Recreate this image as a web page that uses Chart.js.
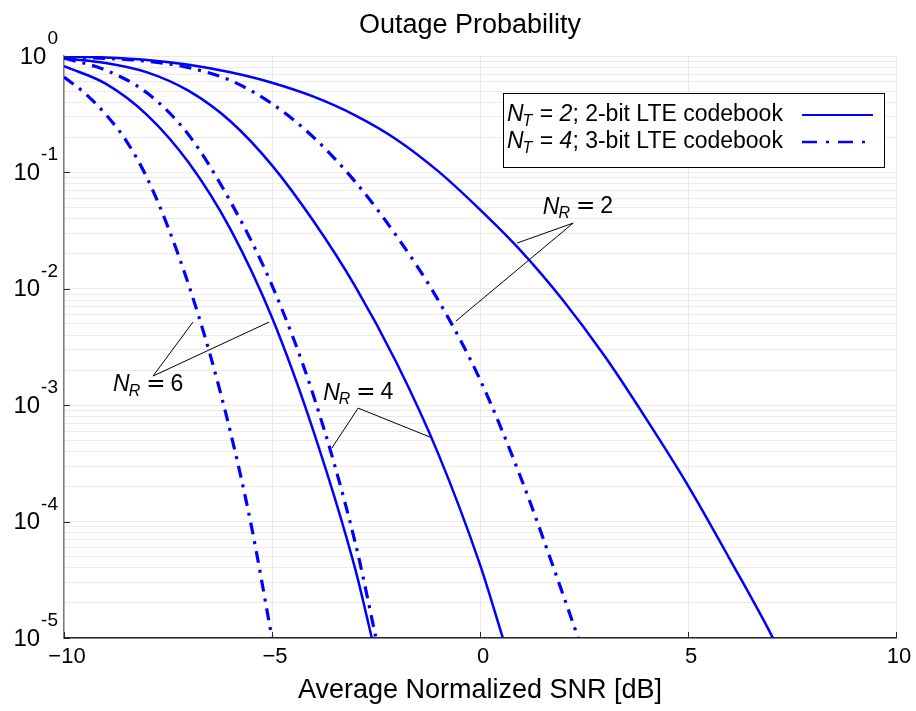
<!DOCTYPE html>
<html>
<head>
<meta charset="utf-8">
<script src="https://cdn.jsdelivr.net/npm/chart.js@4.4.1/dist/chart.umd.min.js"></script>
<style>
    html, body { margin: 0; padding: 0; background: #fff; }
    #wrap { width: 916px; height: 711px; }
</style>
</head>
<body>
<div id="wrap"><canvas id="grafico" width="916" height="711"></canvas></div>
<script>
// === DATI ===
// N_T = 2 (linee continue)
const snrNT2NR2 = [-10, -9, -8, -7, -6, -5, -4, -3, -2, -1, 0, 1, 2, 3, 4, 5, 6, 7, 7.04];
const pNT2NR2 = [0.989, 0.971, 0.925, 0.841, 0.724, 0.589, 0.447, 0.309, 0.191, 0.102, 0.0479, 0.0209, 0.00794, 0.00263, 7.59e-4, 2.04e-4, 4.79e-5, 1.07e-5, 1e-5];
const snrNT2NR4 = [-10, -9, -8, -7, -6, -5, -4, -3, -2, -1, 0, 0.55];
const pNT2NR4 = [0.955, 0.871, 0.724, 0.501, 0.275, 0.115, 0.038, 0.0105, 0.00229, 3.8e-4, 4.27e-5, 1e-5];
const snrNT2NR6 = [-10, -9, -8, -7, -6, -5, -4, -3, -2.6];
const pNT2NR6 = [0.818, 0.579, 0.311, 0.121, 0.0326, 0.00566, 5.93e-4, 3.92e-5, 1e-5];
// N_T = 4 (linee tratto-punto)
const snrNT4NR2 = [-10, -9, -8, -7, -6, -5, -4, -3, -2, -1, 0, 1, 2, 2.36];
const pNT4NR2 = [0.977, 0.955, 0.902, 0.794, 0.617, 0.389, 0.2, 0.0832, 0.0282, 0.00794, 0.00166, 2.29e-4, 2.34e-5, 1e-5];
const snrNT4NR4 = [-10, -9, -8, -7, -6, -5, -4, -3, -2.5];
const pNT4NR4 = [0.959, 0.757, 0.48, 0.209, 0.0562, 0.0107, 0.0012, 6.61e-5, 1e-5];
const snrNT4NR6 = [-10, -9.5, -9, -8.5, -8, -7.5, -7, -6.5, -6, -5.5, -5];
const pNT4NR6 = [0.661, 0.479, 0.316, 0.186, 0.0891, 0.0339, 0.0107, 0.00282, 5.89e-4, 9.33e-5, 1e-5];

// assi
const xTicks = [-10, -5, 0, 5, 10];
const decadi = [1e-5, 1e-4, 1e-3, 1e-2, 1e-1, 1];
const esponenti = ['-5', '-4', '-3', '-2', '-1', '0'];
const minori = [2, 3, 4, 5, 6, 7, 8, 9];

// etichette N_R: [snr, p] per testo, vertice e punte delle frecce
const etichetteNR = [
    { valore: '2', testo: [1.51, 0.0503], apice: [2.24, 0.0367], punte: [[0.89, 0.0247], [-0.58, 0.00528]] },
    { valore: '4', testo: [-3.77, 0.00127], apice: [-2.93, 9.44e-4], punte: [[-3.56, 4.29e-4], [-1.2, 5.32e-4]] },
    { valore: '6', testo: [-8.82, 0.00149], apice: [-7.86, 0.00178], punte: [[-6.9, 0.00518], [-5.07, 0.00518]] }
];

const FONT = "'Liberation Sans', Arial, sans-serif";
const BLU = '#0000ff';
const TRATTO_PUNTO = [12, 7, 3, 7];

// === FUNZIONI ===
function punti(xs, ys) {
    return xs.map((x, i) => ({ x: x, y: ys[i] }));
}

function serie(label, xs, ys, tratteggio) {
    return {
        label: label,
        data: punti(xs, ys),
        borderColor: BLU,
        borderWidth: tratteggio ? 3.2 : 2.5,
        borderDash: tratteggio ? TRATTO_PUNTO : [],
        pointRadius: 0,
        tension: 0.4,
        cubicInterpolationMode: 'monotone',
        fill: false
    };
}

function grigliaY() {
    const valori = [];
    decadi.forEach((d, i) => {
        valori.push(d);
        if (i < decadi.length - 1) minori.forEach(m => valori.push(m * d));
    });
    return valori;
}

// scrive N con pedice corsivo, ritorna la x finale
function scriviN(ctx, x, y, pedice, size) {
    ctx.textBaseline = 'middle';
    ctx.textAlign = 'left';
    ctx.font = 'italic ' + size + 'px ' + FONT;
    ctx.fillText('N', x, y);
    x += ctx.measureText('N').width;
    ctx.font = 'italic ' + Math.round(size * 0.68) + 'px ' + FONT;
    ctx.fillText(pedice, x - 1, y + size * 0.3);
    x += ctx.measureText(pedice).width;
    return x;
}

const disegniExtra = {
    id: 'disegniExtra',
    afterDraw(chart) {
        const ctx = chart.ctx;
        const sx = chart.scales.x;
        const sy = chart.scales.y;
        const area = chart.chartArea;
        ctx.save();

        // tacche interne
        ctx.strokeStyle = '#262626';
        ctx.lineWidth = 1;
        decadi.forEach(d => {
            const y = Math.round(sy.getPixelForValue(d)) + 0.5;
            ctx.beginPath();
            ctx.moveTo(area.left, y);
            ctx.lineTo(area.left + 6, y);
            ctx.stroke();
        });
        xTicks.forEach(t => {
            const x = Math.round(sx.getPixelForValue(t)) + 0.5;
            ctx.beginPath();
            ctx.moveTo(x, area.bottom);
            ctx.lineTo(x, area.bottom - 6);
            ctx.stroke();
        });

        // etichette asse y: 10^n
        ctx.fillStyle = '#000';
        decadi.forEach((d, i) => {
            const y = sy.getPixelForValue(d);
            ctx.font = '19px ' + FONT;
            const we = ctx.measureText(esponenti[i]).width;
            const destra = area.left - 6;
            ctx.textAlign = 'left';
            ctx.textBaseline = 'alphabetic';
            ctx.fillText(esponenti[i], destra - we, y - 12);
            ctx.font = '24px ' + FONT;
            ctx.textAlign = 'right';
            ctx.textBaseline = 'middle';
            ctx.fillText('10', destra - we - 1, y + 1);
        });

        // annotazioni N_R
        etichetteNR.forEach(e => {
            const ax = sx.getPixelForValue(e.apice[0]);
            const ay = sy.getPixelForValue(e.apice[1]);
            ctx.strokeStyle = '#000';
            ctx.lineWidth = 1;
            e.punte.forEach(p => {
                ctx.beginPath();
                ctx.moveTo(ax, ay);
                ctx.lineTo(sx.getPixelForValue(p[0]), sy.getPixelForValue(p[1]));
                ctx.stroke();
            });
            const tx = sx.getPixelForValue(e.testo[0]);
            const ty = sy.getPixelForValue(e.testo[1]);
            let x = scriviN(ctx, tx, ty, 'R', 23);
            ctx.font = "23px 'DejaVu Sans', sans-serif";
            ctx.fillText('=', x + 5, ty);
            x += 5 + ctx.measureText('=').width;
            ctx.font = '23px ' + FONT;
            ctx.fillText(e.valore, x + 5, ty);
        });

        // legenda
        const lx = area.right - 12;
        const lw = 381;
        const ly = area.top + 37;
        const lh = 74;
        ctx.fillStyle = '#fff';
        ctx.fillRect(lx - lw, ly, lw, lh);
        ctx.strokeStyle = '#000';
        ctx.lineWidth = 1;
        ctx.strokeRect(Math.round(lx - lw) + 0.5, Math.round(ly) + 0.5, lw, lh);
        ctx.fillStyle = '#000';
        const righe = [
            { nt: '2', resto: '; 2-bit LTE codebook', dash: [], w: 2.2 },
            { nt: '4', resto: '; 3-bit LTE codebook', dash: [15, 9, 3, 9], w: 2.6 }
        ];
        righe.forEach((r, i) => {
            const y = ly + 22 + i * 27;
            let x = scriviN(ctx, lx - lw + 4, y, 'T', 23);
            ctx.font = '23px ' + FONT;
            ctx.fillText(' = ', x, y);
            x += ctx.measureText(' = ').width;
            ctx.font = 'italic 23px ' + FONT;
            ctx.fillText(r.nt, x, y);
            x += ctx.measureText(r.nt).width;
            ctx.font = '23px ' + FONT;
            ctx.fillText(r.resto, x, y);
            ctx.strokeStyle = BLU;
            ctx.lineWidth = r.w;
            ctx.setLineDash(r.dash);
            ctx.beginPath();
            ctx.moveTo(lx - 82, y);
            ctx.lineTo(lx - 11, y);
            ctx.stroke();
            ctx.setLineDash([]);
        });

        ctx.restore();
    }
};

// === GRAFICO ===
const ctx = document.getElementById('grafico').getContext('2d');
const chart = new Chart(ctx, {
    type: 'line',
    data: {
        datasets: [
            serie('N_T = 2; 2-bit LTE codebook, N_R = 2', snrNT2NR2, pNT2NR2, false),
            serie('N_T = 2; 2-bit LTE codebook, N_R = 4', snrNT2NR4, pNT2NR4, false),
            serie('N_T = 2; 2-bit LTE codebook, N_R = 6', snrNT2NR6, pNT2NR6, false),
            serie('N_T = 4; 3-bit LTE codebook, N_R = 2', snrNT4NR2, pNT4NR2, true),
            serie('N_T = 4; 3-bit LTE codebook, N_R = 4', snrNT4NR4, pNT4NR4, true),
            serie('N_T = 4; 3-bit LTE codebook, N_R = 6', snrNT4NR6, pNT4NR6, true)
        ]
    },
    options: {
        responsive: false,
        animation: false,
        layout: { padding: { left: 44, right: 20, top: 0, bottom: 0 } },
        plugins: {
            legend: { display: false },
            tooltip: { enabled: false },
            title: {
                display: true,
                text: 'Outage Probability',
                color: '#000',
                font: { family: FONT, size: 27, weight: 'normal' },
                padding: { top: 9, bottom: 14.6 }
            }
        },
        scales: {
            x: {
                type: 'linear',
                min: -10,
                max: 10,
                afterBuildTicks: s => { s.ticks = xTicks.map(v => ({ value: v })); },
                ticks: {
                    color: '#000',
                    font: { family: FONT, size: 22 },
                    padding: 6,
                    labelOffset: 3,
                    maxRotation: 0,
                    callback: v => v < 0 ? '\u2212' + Math.abs(v) : String(v)
                },
                grid: { color: '#ebebeb', drawTicks: false },
                border: { color: '#262626', width: 1.5 },
                title: {
                    display: true,
                    text: 'Average Normalized SNR [dB]',
                    color: '#000',
                    font: { family: FONT, size: 27 },
                    padding: { top: 4, bottom: 4 }
                },
                afterFit: s => { s.height = 73; }
            },
            y: {
                type: 'logarithmic',
                min: 1e-5,
                max: 1,
                afterBuildTicks: s => { s.ticks = grigliaY().map(v => ({ value: v })); },
                ticks: { display: false },
                grid: { color: '#ebebeb', drawTicks: false },
                border: { color: '#7a7a7a', width: 1.5 },
                afterFit: s => { s.width = 20; }
            }
        }
    },
    plugins: [disegniExtra]
});
</script>
</body>
</html>
